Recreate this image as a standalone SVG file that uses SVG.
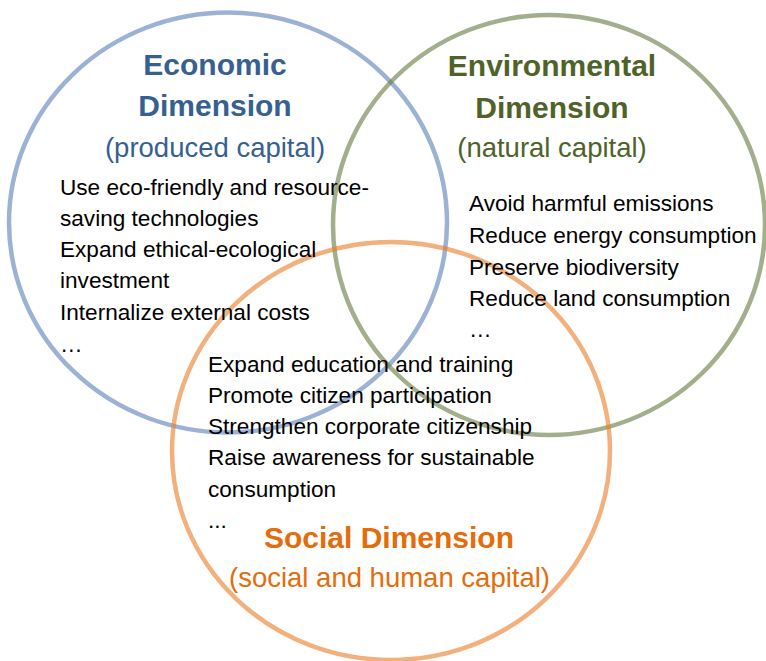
<svg xmlns="http://www.w3.org/2000/svg" width="766" height="661" viewBox="0 0 766 661">
<style>
.ring{fill:none;stroke-width:4.5}
.title{font-family:"Liberation Sans",Arial,sans-serif;font-weight:bold;font-size:30px;text-anchor:middle}
.sub{font-family:"Liberation Sans",Arial,sans-serif;font-size:27.5px;text-anchor:middle}
.body{font-family:"Liberation Sans",Arial,sans-serif;font-size:22.6px;fill:#000}
.econ{fill:#376092}
.env{fill:#4f6228}
.soc{fill:#e46c0a}
</style>
<rect width="766" height="661" fill="#fff"/>
<g id="circles">
<ellipse class="ring" cx="228" cy="222.5" rx="219" ry="210" stroke="#4a72b0" stroke-opacity="0.55"/>
<ellipse class="ring" cx="549" cy="225" rx="216" ry="210" stroke="#667a3f" stroke-opacity="0.6"/>
<ellipse class="ring" cx="391" cy="451" rx="219" ry="209" stroke="#e97b25" stroke-opacity="0.6"/>
</g>
<g id="economic">
<text class="title econ" x="215" y="75">Economic</text>
<text class="title econ" x="215" y="116">Dimension</text>
<text class="sub econ" x="215" y="157">(produced capital)</text>
<text class="body" x="60" y="195">Use eco-friendly and resource-</text>
<text class="body" x="60" y="226">saving technologies</text>
<text class="body" x="60" y="257">Expand ethical-ecological</text>
<text class="body" x="60" y="288">investment</text>
<text class="body" x="60" y="320">Internalize external costs</text>
<text class="body" x="60" y="352">…</text>
</g>
<g id="environmental">
<text class="title env" x="552" y="76">Environmental</text>
<text class="title env" x="552" y="118">Dimension</text>
<text class="sub env" x="552" y="157">(natural capital)</text>
<text class="body" x="469" y="211">Avoid harmful emissions</text>
<text class="body" x="469" y="243">Reduce energy consumption</text>
<text class="body" x="469" y="275">Preserve biodiversity</text>
<text class="body" x="469" y="306">Reduce land consumption</text>
<text class="body" x="469" y="337">…</text>
</g>
<g id="social">
<text class="body" x="208" y="372">Expand education and training</text>
<text class="body" x="208" y="403">Promote citizen participation</text>
<text class="body" x="208" y="434">Strengthen corporate citizenship</text>
<text class="body" x="208" y="465">Raise awareness for sustainable</text>
<text class="body" x="208" y="497">consumption</text>
<text class="body" x="208" y="528">...</text>
<text class="title soc" x="389" y="548">Social Dimension</text>
<text class="sub soc" x="389.5" y="587">(social and human capital)</text>
</g>
</svg>
